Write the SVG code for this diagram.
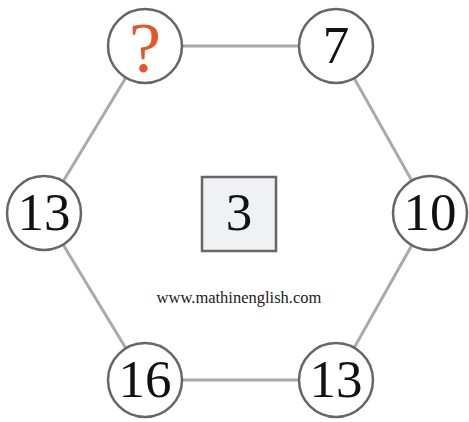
<svg xmlns="http://www.w3.org/2000/svg" width="469" height="422" viewBox="0 0 469 422">
<style>
.c{fill:#fff;stroke:#666;stroke-width:2.5}
.t{font-family:"Liberation Serif",serif;font-size:53px;fill:#111;text-anchor:middle}
.e{stroke:#aaa;stroke-width:3;fill:none}
</style>
<rect width="469" height="422" fill="#fff"/>
<g id="connectors">
<line class="e" x1="145" y1="46" x2="336" y2="46"/>
<line class="e" x1="336" y1="46" x2="430" y2="213"/>
<line class="e" x1="430" y1="213" x2="336" y2="380"/>
<line class="e" x1="336" y1="380" x2="145" y2="380"/>
<line class="e" x1="145" y1="380" x2="44" y2="213"/>
<line class="e" x1="44" y1="213" x2="145" y2="46"/>
</g>
<g id="center"><rect x="202" y="177" width="74" height="74" fill="#f0f1f3" stroke="#666" stroke-width="2.5"/><text class="t" x="239" y="230">3</text></g>
<g id="n1"><circle class="c" cx="145" cy="46" r="37"/><text class="t" x="145" y="72" style="fill:#e8552a;font-size:72px">?</text></g>
<g id="n2"><circle class="c" cx="336" cy="46" r="37"/><text class="t" x="336" y="63">7</text></g>
<g id="n3"><circle class="c" cx="430" cy="213" r="37"/><text class="t" x="430" y="230">10</text></g>
<g id="n4"><circle class="c" cx="336" cy="380" r="37"/><text class="t" x="336" y="397">13</text></g>
<g id="n5"><circle class="c" cx="145" cy="380" r="37"/><text class="t" x="145" y="397">16</text></g>
<g id="n6"><circle class="c" cx="44" cy="213" r="37"/><text class="t" x="44" y="230">13</text></g>
<text x="239" y="303" font-family="Liberation Serif,serif" font-size="16.5" fill="#222" text-anchor="middle">www.mathinenglish.com</text>
</svg>
